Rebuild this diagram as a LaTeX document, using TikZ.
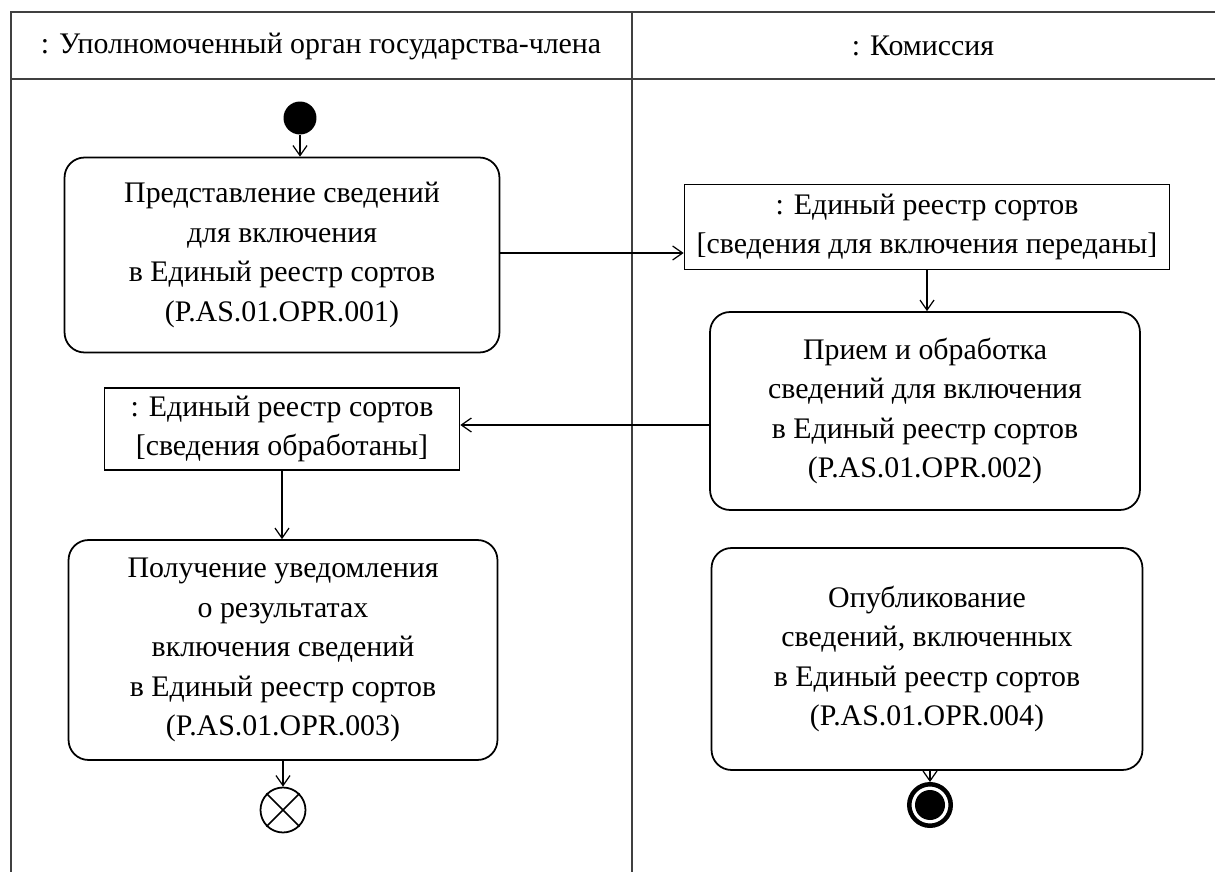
\documentclass[tikz,border=0pt]{standalone}
\usepackage{fontspec}
\setmainfont{Liberation Serif}
\usetikzlibrary{arrows.meta}

\begin{document}
\begin{tikzpicture}[
        x = .02cm,
        y = -.02cm,
        font = \fontsize{17}{22.5}\selectfont,
        act/.style = {draw, line width = 1pt, rounded corners = .4cm,
            align = center, inner sep = 0pt},
        obj/.style = {draw, line width = 1pt, align = center, inner sep = 0pt},
        flow/.style = {-{Straight Barb[length = 2mm, width = 2.8mm]}, line width = .7pt},
        lane/.style = {line width = 1.3pt, black!75}
    ]
        \useasboundingbox (0,0) rectangle (1215,872);
        % swimlanes
        \draw[lane] (11,872)--(11,12)--(1215,12);
        \draw[lane] (11,79)--(1215,79);
        \draw[lane] (632,12)--(632,872);
        \node (hdrA) at (321,46) {: Уполномоченный орган государства-члена};
        \node (hdrB) at (923,46) {: Комиссия};

        % left lane
        \node[circle, fill, inner sep = 0pt, minimum size = .66cm] (start) at (300,118) {};
        \node[act, minimum width = 8.7cm, minimum height = 3.9cm] (act1) at (282,255)
            {Представление сведений\\для включения\\в Единый реестр сортов\\(P.AS.01.OPR.001)};
        \node[obj, minimum width = 7.1cm, minimum height = 1.64cm] (obj2) at (282,429)
            {: Единый реестр сортов\\{[}сведения обработаны{]}};
        \node[act, minimum width = 8.58cm, minimum height = 4.4cm] (act3) at (283,650)
            {Получение уведомления\\о результатах\\включения сведений\\в Единый реестр сортов\\(P.AS.01.OPR.003)};
        \node[circle, draw, line width = 1pt, inner sep = 0pt, minimum size = .9cm] (flowend) at (283,810) {};
        \draw[line width = 1pt] (flowend.north west)--(flowend.south east);
        \draw[line width = 1pt] (flowend.north east)--(flowend.south west);

        % right lane
        \node[obj, minimum width = 9.7cm, minimum height = 1.7cm] (obj1) at (927,227)
            {: Единый реестр сортов\\{[}сведения для включения переданы{]}};
        \node[act, minimum width = 8.6cm, minimum height = 3.96cm] (act2) at (925,411)
            {Прием и обработка\\сведений для включения\\в Единый реестр сортов\\(P.AS.01.OPR.002)};
        \node[act, minimum width = 8.62cm, minimum height = 4.44cm] (act4) at (927,659)
            {Опубликование\\сведений, включенных\\в Единый реестр сортов\\(P.AS.01.OPR.004)};
        \node[circle, draw, line width = .09cm, inner sep = 0pt, minimum size = .83cm] (fin) at (930,805) {};
        \fill (fin) circle (.3cm);

        % flows
        \draw[flow] (start)--(start |- act1.north);
        \draw[flow] (act1.east |- 0,253)--(obj1.west |- 0,253);
        \draw[flow] (obj1.south)--(obj1.south |- act2.north);
        \draw[flow] (act2.west |- 0,425)--(obj2.east |- 0,425);
        \draw[flow] (obj2.south)--(obj2.south |- act3.north);
        \draw[flow] (act3.south)--(flowend.north);
        \draw[flow] (fin.north |- act4.south)--(fin.north);
    \end{tikzpicture}
\end{document}
